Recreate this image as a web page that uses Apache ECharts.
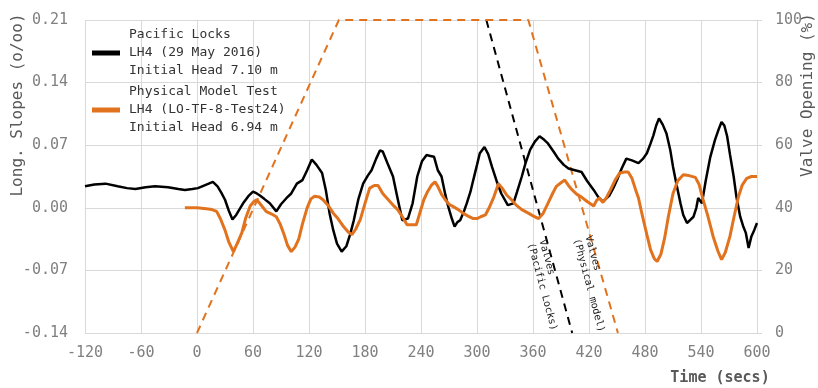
<!DOCTYPE html>
<html><head><meta charset="utf-8">
<script src="https://cdn.jsdelivr.net/npm/echarts@6/dist/echarts.min.js"></script>
<style>html,body{margin:0;padding:0;background:#fff}#c{width:818px;height:388px}</style>
</head><body><div id="c"></div>
<script>
const MONO = "'DejaVu Sans Mono', monospace";
const seriesNames = [
  'Pacific Locks\nLH4 (29 May 2016)\nInitial Head 7.10 m',
  'Physical Model Test\nLH4 (LO-TF-8-Test24)\nInitial Head 6.94 m'
];
const xTicks = { min: -120, max: 600, step: 60 };
const slopeTicks = { min: -0.14, max: 0.21, step: 0.07 };
const valveTicks = { min: 0, max: 100, step: 20 };

// Pacific Locks LH4 (29 May 2016): [time s, slope o/oo]
const pacificLocks = [
[-120,0.024],[-110,0.026],[-98,0.027],[-85,0.024],[-75,0.022],[-66,0.021],[-55,0.023],[-45,0.024],[-31,0.023],[-20,0.021],[-13,0.020],[-5,0.021],[1,0.022],[10,0.026],[17,0.029],[22,0.024],[26,0.017],[30,0.009],[34,-0.003],[38,-0.013],[42,-0.008],[46,-0.001],[50,0.006],[55,0.013],[60,0.018],[64,0.016],[67,0.014],[72,0.010],[78,0.005],[85,-0.004],[90,0.004],[96,0.011],[101,0.016],[107,0.027],[113,0.031],[118,0.042],[123,0.054],[128,0.048],[134,0.039],[138,0.020],[142,-0.006],[146,-0.025],[150,-0.040],[155,-0.049],[160,-0.043],[164,-0.030],[168,-0.014],[173,0.010],[178,0.027],[183,0.036],[187,0.042],[192,0.055],[196,0.064],[199,0.063],[204,0.050],[210,0.035],[215,0.010],[220,-0.014],[226,-0.012],[231,0.005],[236,0.035],[241,0.052],[246,0.059],[250,0.058],[254,0.057],[258,0.042],[262,0.035],[266,0.015],[269,0.002],[273,-0.012],[276,-0.021],[279,-0.016],[282,-0.014],[286,-0.004],[289,0.005],[293,0.018],[296,0.031],[300,0.048],[303,0.061],[308,0.068],[312,0.060],[316,0.046],[321,0.030],[326,0.016],[333,0.003],[339,0.005],[343,0.018],[348,0.035],[352,0.050],[357,0.065],[362,0.074],[367,0.080],[372,0.076],[376,0.072],[382,0.063],[387,0.055],[393,0.048],[398,0.044],[405,0.042],[412,0.040],[418,0.030],[425,0.020],[430,0.012],[435,0.007],[442,0.014],[446,0.022],[450,0.031],[455,0.044],[460,0.055],[466,0.053],[473,0.050],[478,0.055],[482,0.061],[486,0.072],[489,0.081],[492,0.092],[495,0.100],[499,0.093],[503,0.083],[507,0.065],[510,0.046],[514,0.025],[518,0.005],[521,-0.008],[525,-0.017],[528,-0.014],[532,-0.010],[535,0.000],[537,0.011],[541,0.005],[545,0.030],[550,0.057],[555,0.076],[559,0.088],[562,0.096],[565,0.092],[568,0.080],[571,0.060],[575,0.035],[578,0.012],[582,-0.010],[585,-0.020],[588,-0.028],[591,-0.045],[594,-0.032],[597,-0.025],[600,-0.017]
];

// Physical Model Test LH4 (LO-TF-8-Test24)
const physicalModel = [
[-13,0.000],[0,0.000],[10,-0.001],[16,-0.002],[21,-0.004],[25,-0.012],[30,-0.025],[34,-0.038],[39,-0.049],[43,-0.040],[48,-0.028],[52,-0.012],[57,0.002],[61,0.007],[64,0.009],[68,0.004],[74,-0.004],[80,-0.007],[85,-0.010],[89,-0.018],[93,-0.029],[97,-0.042],[101,-0.049],[105,-0.044],[109,-0.035],[113,-0.018],[118,0.000],[122,0.010],[126,0.013],[131,0.012],[135,0.009],[141,0.002],[146,-0.006],[151,-0.012],[157,-0.021],[162,-0.027],[166,-0.030],[170,-0.024],[175,-0.013],[180,0.005],[185,0.022],[190,0.025],[194,0.025],[199,0.016],[204,0.010],[210,0.003],[215,-0.002],[220,-0.010],[225,-0.019],[230,-0.019],[235,-0.019],[239,-0.005],[243,0.009],[247,0.018],[251,0.025],[255,0.029],[258,0.024],[262,0.015],[266,0.009],[270,0.004],[275,0.001],[280,-0.002],[285,-0.006],[290,-0.009],[296,-0.012],[300,-0.012],[304,-0.010],[309,-0.008],[313,0.000],[318,0.012],[323,0.027],[327,0.022],[332,0.014],[337,0.009],[342,0.003],[348,-0.002],[355,-0.006],[360,-0.009],[366,-0.012],[371,-0.006],[376,0.005],[381,0.016],[385,0.024],[390,0.028],[394,0.031],[398,0.025],[402,0.020],[407,0.015],[412,0.012],[418,0.007],[425,0.002],[428,0.008],[431,0.011],[435,0.006],[439,0.012],[443,0.020],[448,0.031],[453,0.039],[458,0.040],[462,0.040],[466,0.033],[470,0.020],[473,0.011],[477,-0.008],[482,-0.030],[486,-0.047],[490,-0.057],[493,-0.060],[497,-0.052],[501,-0.034],[505,-0.010],[510,0.016],[515,0.030],[521,0.037],[527,0.036],[534,0.034],[538,0.026],[542,0.010],[547,-0.008],[553,-0.032],[558,-0.048],[562,-0.058],[566,-0.050],[571,-0.032],[575,-0.012],[580,0.012],[584,0.025],[589,0.033],[594,0.035],[600,0.035]
];

// Valve openings (%), right axis
const valvePacific = [[310,100],[402,0]];
const valveModel = [[0,0],[152,100],[355,100],[451,0]];

const annotations = [
  { text: 'Valves         \n(Pacific Locks)', t: 376, pct: 15.3 },
  { text: 'Valves          \n(Physical model)', t: 426, pct: 15.7 }
];

const BLACK = '#000000', ORANGE = '#e2731e', GRID = '#d9d9d9', LABEL = '#808080', TITLE = '#595959';

const chart = echarts.init(document.getElementById('c'));
function annot(a) {
  return {
    coord: [a.t, a.pct], symbol: 'circle', symbolSize: 1,
    itemStyle: { color: 'rgba(0,0,0,0)' },
    label: { show: true, position: 'inside', formatter: a.text, rotate: -75,
      fontFamily: MONO, fontSize: 10, lineHeight: 12, color: '#222', align: 'center', verticalAlign: 'middle' }
  };
}
chart.setOption({
  animation: false,
  backgroundColor: '#fff',
  grid: { left: 85, right: 61, top: 20, bottom: 55, containLabel: false },
  legend: {
    data: seriesNames, orient: 'vertical', left: 87, top: 21, itemGap: 3,
    itemWidth: 28, itemHeight: 5, icon: 'rect',
    textStyle: { fontFamily: MONO, fontSize: 13, lineHeight: 18, color: '#333', padding: [0,0,0,4] }
  },
  xAxis: {
    type: 'value', min: xTicks.min, max: xTicks.max, interval: xTicks.step,
    axisLine: { lineStyle: { color: GRID } }, axisTick: { show: false },
    axisLabel: { fontFamily: MONO, fontSize: 15, color: LABEL, margin: 13 },
    splitLine: { lineStyle: { color: GRID } }
  },
  yAxis: [{
    type: 'value', min: slopeTicks.min, max: slopeTicks.max, interval: slopeTicks.step,
    axisLine: { show: true, lineStyle: { color: GRID } }, axisTick: { show: false },
    axisLabel: { fontFamily: MONO, fontSize: 15, color: LABEL, margin: 17, formatter: v => v.toFixed(2) },
    splitLine: { lineStyle: { color: GRID } }
  }, {
    type: 'value', min: valveTicks.min, max: valveTicks.max, interval: valveTicks.step, position: 'right',
    axisLine: { show: true, lineStyle: { color: GRID } }, axisTick: { show: true, length: 5, lineStyle: { color: GRID } },
    axisLabel: { fontFamily: MONO, fontSize: 15, color: LABEL, margin: 18 },
    splitLine: { show: false }
  }],
  graphic: [
    { type: 'text', x: 18, y: 105, rotation: Math.PI / 2,
      style: { text: 'Long. Slopes (o/oo)', fontFamily: MONO, fontSize: 16, fill: TITLE, align: 'center', verticalAlign: 'middle', textAlign: 'center', textVerticalAlign: 'middle' } },
    { type: 'text', x: 808, y: 95, rotation: Math.PI / 2,
      style: { text: 'Valve Opening (%)', fontFamily: MONO, fontSize: 16, fill: TITLE, align: 'center', verticalAlign: 'middle', textAlign: 'center', textVerticalAlign: 'middle' } },
    { type: 'text', x: 720, y: 378,
      style: { text: 'Time (secs)', fontFamily: MONO, fontSize: 15, fontWeight: 'bold', fill: TITLE, align: 'center', verticalAlign: 'middle', textAlign: 'center', textVerticalAlign: 'middle' } }
  ],
  series: [
    { name: 'valvePacific', type: 'line', yAxisIndex: 1, data: valvePacific, showSymbol: false, silent: true,
      lineStyle: { color: BLACK, width: 2, type: [8, 6] }, itemStyle: { color: BLACK },
      markPoint: { silent: true, data: [annot(annotations[0])] } },
    { name: 'valveModel', type: 'line', yAxisIndex: 1, data: valveModel, showSymbol: false, silent: true,
      lineStyle: { color: ORANGE, width: 2, type: [8, 6] }, itemStyle: { color: ORANGE },
      markPoint: { silent: true, data: [annot(annotations[1])] } },
    { name: seriesNames[0], type: 'line', data: pacificLocks, showSymbol: false,
      lineStyle: { color: BLACK, width: 2.5 }, itemStyle: { color: BLACK } },
    { name: seriesNames[1], type: 'line', data: physicalModel, showSymbol: false,
      lineStyle: { color: ORANGE, width: 3 }, itemStyle: { color: ORANGE } }
  ]
});
</script></body></html>
